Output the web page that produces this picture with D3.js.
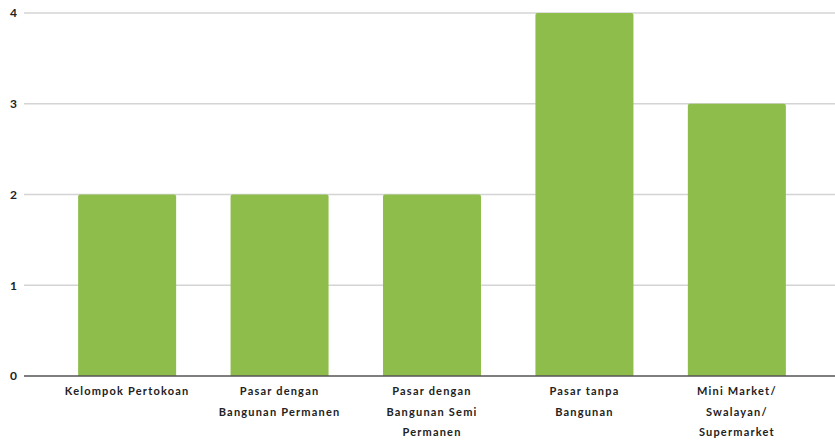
<!DOCTYPE html>
<html><head><meta charset="utf-8">
<script src="https://cdn.jsdelivr.net/npm/d3@7"></script>
<style>body{margin:0;background:#fff}svg{display:block}text{font-family:Lato,"Open Sans",sans-serif}</style>
</head><body><svg id="c" width="835" height="445"></svg>
<script>
const categories = ["Kelompok Pertokoan","Pasar dengan Bangunan Permanen","Pasar dengan Bangunan Semi Permanen","Pasar tanpa Bangunan","Mini Market/ Swalayan/ Supermarket"];
const tickLabels = [["Kelompok Pertokoan"],["Pasar dengan","Bangunan Permanen"],["Pasar dengan","Bangunan Semi","Permanen"],["Pasar tanpa","Bangunan"],["Mini Market/","Swalayan/","Supermarket"]];
const values = [2,2,2,4,3];
const yTicks = [0,1,2,3,4];

const svg = d3.select("#c");
const x = d3.scaleBand().domain(categories).range([51,813]).paddingInner(0.357).paddingOuter(0.178);
const y = d3.scaleLinear().domain([0,4]).range([376,13]);

const grid = svg.append("g");
grid.selectAll("line").data(yTicks.filter(d=>d>0)).join("line")
  .attr("x1",24).attr("x2",835).attr("y1",d=>y(d)).attr("y2",d=>y(d))
  .attr("stroke","#d4d4d4").attr("stroke-width",1.5);

svg.append("g").selectAll("path").data(values).join("path")
  .attr("fill","#8fbd4b")
  .attr("d",(d,i)=>{
    const x0=x(categories[i]), w=x.bandwidth(), y0=y(d), y1=y(0), r=2;
    return `M${x0},${y1}V${y0+r}Q${x0},${y0} ${x0+r},${y0}H${x0+w-r}Q${x0+w},${y0} ${x0+w},${y0+r}V${y1}Z`;
  });

svg.append("line").attr("x1",24).attr("x2",835).attr("y1",y(0)).attr("y2",y(0))
  .attr("stroke","#555").attr("stroke-width",1.5);

const yAxis = d3.axisLeft(y).tickValues(yTicks).tickSize(0).tickPadding(0).tickFormat(d3.format("d"));
const ya = svg.append("g").attr("transform","translate(17,0)").call(yAxis);
ya.select(".domain").remove();
ya.selectAll("text").attr("font-size",12).attr("font-weight","bold").attr("fill","#222").attr("font-family","Lato, sans-serif");

const xAxis = d3.axisBottom(x).tickSize(0).tickFormat(()=> "");
const xa = svg.append("g").attr("transform",`translate(0,${y(0)})`).call(xAxis);
xa.select(".domain").remove();
xa.selectAll(".tick").each(function(d,i){
  const t = d3.select(this).append("text").attr("fill","#222").attr("font-size",11)
    .attr("font-weight","bold").attr("text-anchor","middle").attr("letter-spacing",1.2);
  tickLabels[i].forEach((ln,j)=>t.append("tspan").attr("x",0).attr("y",19+j*20.5).text(ln));
});
</script></body></html>
